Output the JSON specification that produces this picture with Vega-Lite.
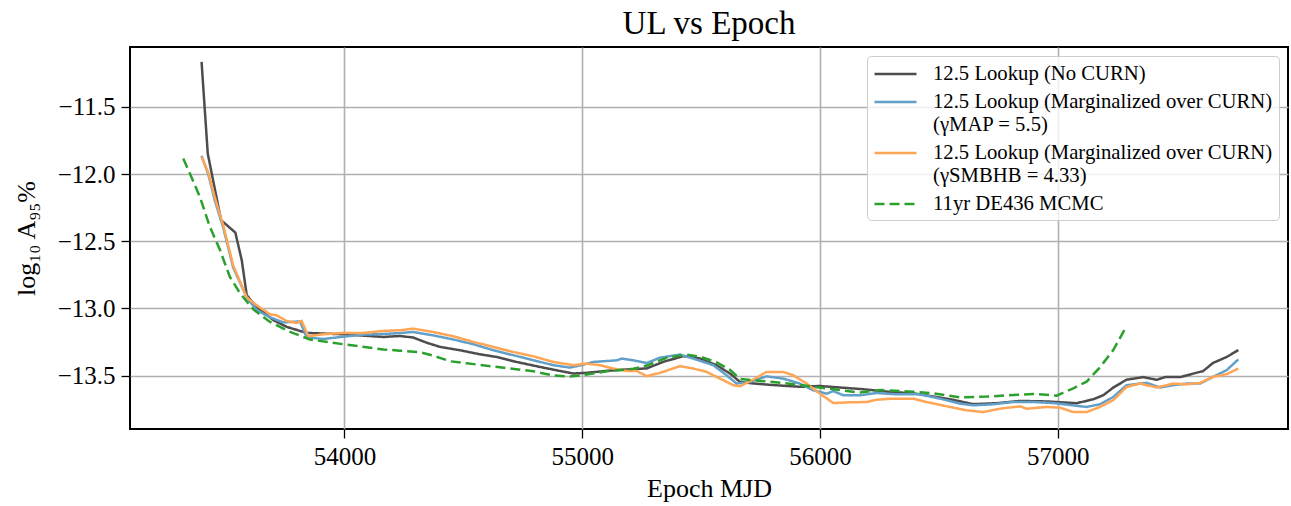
{
  "$schema": "https://vega.github.io/schema/vega-lite/v6.json",
  "width": 1158,
  "height": 382,
  "autosize": "none",
  "padding": {"left": 130, "top": 47, "right": 3, "bottom": 77},
  "background": "white",
  "title": {"text": "UL vs Epoch", "font": "Liberation Serif", "fontSize": 33, "fontWeight": "normal", "color": "black", "offset": 6},
  "data": {"values": [
    {"s":"nocurn","x":53399,"y":-11.165},{"s":"nocurn","x":53425,"y":-11.847},{"s":"nocurn","x":53481,"y":-12.343},{"s":"nocurn","x":53541,"y":-12.435},{"s":"nocurn","x":53568,"y":-12.641},{"s":"nocurn","x":53589,"y":-12.902},{"s":"nocurn","x":53631,"y":-12.988},{"s":"nocurn","x":53701,"y":-13.087},{"s":"nocurn","x":53757,"y":-13.137},{"s":"nocurn","x":53841,"y":-13.182},{"s":"nocurn","x":53995,"y":-13.192},{"s":"nocurn","x":54163,"y":-13.212},{"s":"nocurn","x":54233,"y":-13.205},{"s":"nocurn","x":54289,"y":-13.216},{"s":"nocurn","x":54346,"y":-13.255},{"s":"nocurn","x":54402,"y":-13.286},{"s":"nocurn","x":54486,"y":-13.311},{"s":"nocurn","x":54570,"y":-13.341},{"s":"nocurn","x":54640,"y":-13.361},{"s":"nocurn","x":54724,"y":-13.398},{"s":"nocurn","x":54822,"y":-13.435},{"s":"nocurn","x":54906,"y":-13.465},{"s":"nocurn","x":54962,"y":-13.484},{"s":"nocurn","x":55018,"y":-13.479},{"s":"nocurn","x":55103,"y":-13.464},{"s":"nocurn","x":55187,"y":-13.454},{"s":"nocurn","x":55271,"y":-13.446},{"s":"nocurn","x":55341,"y":-13.397},{"s":"nocurn","x":55425,"y":-13.355},{"s":"nocurn","x":55495,"y":-13.372},{"s":"nocurn","x":55565,"y":-13.422},{"s":"nocurn","x":55621,"y":-13.484},{"s":"nocurn","x":55663,"y":-13.546},{"s":"nocurn","x":55719,"y":-13.558},{"s":"nocurn","x":55803,"y":-13.570},{"s":"nocurn","x":55915,"y":-13.583},{"s":"nocurn","x":55999,"y":-13.577},{"s":"nocurn","x":56098,"y":-13.590},{"s":"nocurn","x":56182,"y":-13.601},{"s":"nocurn","x":56294,"y":-13.621},{"s":"nocurn","x":56392,"y":-13.631},{"s":"nocurn","x":56476,"y":-13.655},{"s":"nocurn","x":56560,"y":-13.680},{"s":"nocurn","x":56644,"y":-13.712},{"s":"nocurn","x":56743,"y":-13.705},{"s":"nocurn","x":56841,"y":-13.688},{"s":"nocurn","x":56953,"y":-13.692},{"s":"nocurn","x":57079,"y":-13.705},{"s":"nocurn","x":57149,"y":-13.676},{"s":"nocurn","x":57191,"y":-13.646},{"s":"nocurn","x":57233,"y":-13.589},{"s":"nocurn","x":57289,"y":-13.530},{"s":"nocurn","x":57359,"y":-13.511},{"s":"nocurn","x":57416,"y":-13.531},{"s":"nocurn","x":57450,"y":-13.511},{"s":"nocurn","x":57520,"y":-13.509},{"s":"nocurn","x":57569,"y":-13.485},{"s":"nocurn","x":57611,"y":-13.466},{"s":"nocurn","x":57653,"y":-13.405},{"s":"nocurn","x":57710,"y":-13.361},{"s":"nocurn","x":57759,"y":-13.310},
    {"s":"map","x":53399,"y":-11.864},{"s":"map","x":53427,"y":-12.000},{"s":"map","x":53455,"y":-12.198},{"s":"map","x":53490,"y":-12.397},{"s":"map","x":53532,"y":-12.695},{"s":"map","x":53589,"y":-12.918},{"s":"map","x":53631,"y":-13.012},{"s":"map","x":53687,"y":-13.066},{"s":"map","x":53743,"y":-13.104},{"s":"map","x":53813,"y":-13.096},{"s":"map","x":53841,"y":-13.215},{"s":"map","x":53911,"y":-13.227},{"s":"map","x":53995,"y":-13.210},{"s":"map","x":54079,"y":-13.195},{"s":"map","x":54163,"y":-13.190},{"s":"map","x":54233,"y":-13.183},{"s":"map","x":54289,"y":-13.175},{"s":"map","x":54373,"y":-13.200},{"s":"map","x":54458,"y":-13.231},{"s":"map","x":54542,"y":-13.266},{"s":"map","x":54626,"y":-13.311},{"s":"map","x":54710,"y":-13.348},{"s":"map","x":54794,"y":-13.385},{"s":"map","x":54878,"y":-13.422},{"s":"map","x":54948,"y":-13.440},{"s":"map","x":54997,"y":-13.422},{"s":"map","x":55046,"y":-13.398},{"s":"map","x":55145,"y":-13.386},{"s":"map","x":55166,"y":-13.373},{"s":"map","x":55215,"y":-13.386},{"s":"map","x":55271,"y":-13.406},{"s":"map","x":55327,"y":-13.366},{"s":"map","x":55411,"y":-13.343},{"s":"map","x":55467,"y":-13.373},{"s":"map","x":55551,"y":-13.422},{"s":"map","x":55607,"y":-13.497},{"s":"map","x":55649,"y":-13.559},{"s":"map","x":55705,"y":-13.547},{"s":"map","x":55775,"y":-13.505},{"s":"map","x":55845,"y":-13.522},{"s":"map","x":55915,"y":-13.559},{"s":"map","x":55971,"y":-13.609},{"s":"map","x":56028,"y":-13.634},{"s":"map","x":56056,"y":-13.615},{"s":"map","x":56098,"y":-13.646},{"s":"map","x":56168,"y":-13.646},{"s":"map","x":56238,"y":-13.629},{"s":"map","x":56322,"y":-13.639},{"s":"map","x":56420,"y":-13.639},{"s":"map","x":56504,"y":-13.671},{"s":"map","x":56588,"y":-13.708},{"s":"map","x":56644,"y":-13.721},{"s":"map","x":56728,"y":-13.713},{"s":"map","x":56812,"y":-13.696},{"s":"map","x":56897,"y":-13.696},{"s":"map","x":56981,"y":-13.704},{"s":"map","x":57065,"y":-13.721},{"s":"map","x":57121,"y":-13.733},{"s":"map","x":57177,"y":-13.713},{"s":"map","x":57233,"y":-13.659},{"s":"map","x":57289,"y":-13.571},{"s":"map","x":57345,"y":-13.559},{"s":"map","x":57374,"y":-13.554},{"s":"map","x":57430,"y":-13.588},{"s":"map","x":57485,"y":-13.571},{"s":"map","x":57542,"y":-13.559},{"s":"map","x":57598,"y":-13.559},{"s":"map","x":57653,"y":-13.509},{"s":"map","x":57710,"y":-13.459},{"s":"map","x":57759,"y":-13.379},
    {"s":"smbhb","x":53399,"y":-11.872},{"s":"smbhb","x":53427,"y":-11.989},{"s":"smbhb","x":53455,"y":-12.175},{"s":"smbhb","x":53490,"y":-12.380},{"s":"smbhb","x":53532,"y":-12.680},{"s":"smbhb","x":53589,"y":-12.918},{"s":"smbhb","x":53631,"y":-12.977},{"s":"smbhb","x":53687,"y":-13.043},{"s":"smbhb","x":53715,"y":-13.051},{"s":"smbhb","x":53757,"y":-13.093},{"s":"smbhb","x":53799,"y":-13.108},{"s":"smbhb","x":53820,"y":-13.093},{"s":"smbhb","x":53848,"y":-13.207},{"s":"smbhb","x":53911,"y":-13.192},{"s":"smbhb","x":53995,"y":-13.182},{"s":"smbhb","x":54079,"y":-13.182},{"s":"smbhb","x":54163,"y":-13.167},{"s":"smbhb","x":54233,"y":-13.162},{"s":"smbhb","x":54289,"y":-13.150},{"s":"smbhb","x":54373,"y":-13.175},{"s":"smbhb","x":54458,"y":-13.207},{"s":"smbhb","x":54542,"y":-13.249},{"s":"smbhb","x":54626,"y":-13.286},{"s":"smbhb","x":54710,"y":-13.324},{"s":"smbhb","x":54794,"y":-13.356},{"s":"smbhb","x":54878,"y":-13.398},{"s":"smbhb","x":54962,"y":-13.422},{"s":"smbhb","x":55018,"y":-13.410},{"s":"smbhb","x":55074,"y":-13.422},{"s":"smbhb","x":55130,"y":-13.447},{"s":"smbhb","x":55187,"y":-13.465},{"s":"smbhb","x":55229,"y":-13.465},{"s":"smbhb","x":55271,"y":-13.504},{"s":"smbhb","x":55327,"y":-13.479},{"s":"smbhb","x":55411,"y":-13.429},{"s":"smbhb","x":55467,"y":-13.447},{"s":"smbhb","x":55523,"y":-13.472},{"s":"smbhb","x":55579,"y":-13.522},{"s":"smbhb","x":55635,"y":-13.571},{"s":"smbhb","x":55663,"y":-13.579},{"s":"smbhb","x":55719,"y":-13.529},{"s":"smbhb","x":55775,"y":-13.472},{"s":"smbhb","x":55845,"y":-13.472},{"s":"smbhb","x":55887,"y":-13.497},{"s":"smbhb","x":55944,"y":-13.559},{"s":"smbhb","x":55999,"y":-13.634},{"s":"smbhb","x":56056,"y":-13.704},{"s":"smbhb","x":56112,"y":-13.699},{"s":"smbhb","x":56196,"y":-13.696},{"s":"smbhb","x":56238,"y":-13.679},{"s":"smbhb","x":56308,"y":-13.671},{"s":"smbhb","x":56392,"y":-13.671},{"s":"smbhb","x":56448,"y":-13.696},{"s":"smbhb","x":56532,"y":-13.728},{"s":"smbhb","x":56616,"y":-13.758},{"s":"smbhb","x":56686,"y":-13.771},{"s":"smbhb","x":56756,"y":-13.746},{"s":"smbhb","x":56841,"y":-13.728},{"s":"smbhb","x":56869,"y":-13.746},{"s":"smbhb","x":56953,"y":-13.733},{"s":"smbhb","x":57009,"y":-13.738},{"s":"smbhb","x":57065,"y":-13.771},{"s":"smbhb","x":57121,"y":-13.771},{"s":"smbhb","x":57177,"y":-13.733},{"s":"smbhb","x":57233,"y":-13.683},{"s":"smbhb","x":57289,"y":-13.584},{"s":"smbhb","x":57345,"y":-13.559},{"s":"smbhb","x":57416,"y":-13.588},{"s":"smbhb","x":57485,"y":-13.559},{"s":"smbhb","x":57542,"y":-13.564},{"s":"smbhb","x":57598,"y":-13.554},{"s":"smbhb","x":57653,"y":-13.509},{"s":"smbhb","x":57710,"y":-13.489},{"s":"smbhb","x":57759,"y":-13.447},
    {"s":"mcmc","x":53322,"y":-11.884},{"s":"mcmc","x":53350,"y":-11.996},{"s":"mcmc","x":53392,"y":-12.170},{"s":"mcmc","x":53434,"y":-12.393},{"s":"mcmc","x":53477,"y":-12.567},{"s":"mcmc","x":53518,"y":-12.765},{"s":"mcmc","x":53561,"y":-12.888},{"s":"mcmc","x":53617,"y":-13.007},{"s":"mcmc","x":53687,"y":-13.100},{"s":"mcmc","x":53771,"y":-13.174},{"s":"mcmc","x":53855,"y":-13.231},{"s":"mcmc","x":53995,"y":-13.266},{"s":"mcmc","x":54163,"y":-13.305},{"s":"mcmc","x":54233,"y":-13.314},{"s":"mcmc","x":54318,"y":-13.326},{"s":"mcmc","x":54373,"y":-13.351},{"s":"mcmc","x":54444,"y":-13.393},{"s":"mcmc","x":54514,"y":-13.408},{"s":"mcmc","x":54654,"y":-13.438},{"s":"mcmc","x":54794,"y":-13.467},{"s":"mcmc","x":54878,"y":-13.499},{"s":"mcmc","x":54948,"y":-13.507},{"s":"mcmc","x":55018,"y":-13.492},{"s":"mcmc","x":55103,"y":-13.467},{"s":"mcmc","x":55215,"y":-13.449},{"s":"mcmc","x":55271,"y":-13.425},{"s":"mcmc","x":55355,"y":-13.367},{"s":"mcmc","x":55439,"y":-13.343},{"s":"mcmc","x":55495,"y":-13.358},{"s":"mcmc","x":55565,"y":-13.401},{"s":"mcmc","x":55621,"y":-13.457},{"s":"mcmc","x":55663,"y":-13.524},{"s":"mcmc","x":55719,"y":-13.534},{"s":"mcmc","x":55803,"y":-13.547},{"s":"mcmc","x":55915,"y":-13.569},{"s":"mcmc","x":56056,"y":-13.601},{"s":"mcmc","x":56168,"y":-13.626},{"s":"mcmc","x":56252,"y":-13.606},{"s":"mcmc","x":56392,"y":-13.619},{"s":"mcmc","x":56476,"y":-13.631},{"s":"mcmc","x":56588,"y":-13.661},{"s":"mcmc","x":56701,"y":-13.656},{"s":"mcmc","x":56812,"y":-13.644},{"s":"mcmc","x":56897,"y":-13.636},{"s":"mcmc","x":56995,"y":-13.649},{"s":"mcmc","x":57065,"y":-13.594},{"s":"mcmc","x":57121,"y":-13.545},{"s":"mcmc","x":57177,"y":-13.438},{"s":"mcmc","x":57233,"y":-13.310},{"s":"mcmc","x":57289,"y":-13.131}
  ]},
  "mark": {"type": "line", "strokeWidth": 2.5, "clip": true, "strokeCap": "butt"},
  "encoding": {
    "x": {"field": "x", "type": "quantitative",
      "scale": {"domain": [53098, 57968], "nice": false, "zero": false},
      "axis": {"values": [54000, 55000, 56000, 57000], "format": "d", "title": "Epoch MJD", "titlePadding": 6}},
    "y": {"field": "y", "type": "quantitative",
      "scale": {"domain": [-13.897, -11.054], "nice": false, "zero": false},
      "axis": {"values": [-13.5, -13, -12.5, -12, -11.5], "format": ".1f", "title": "log₁₀ A₉₅%", "titlePadding": 18}},
    "color": {"field": "s", "type": "nominal",
      "scale": {"domain": ["nocurn", "map", "smbhb", "mcmc"], "range": ["#4d4d4d", "#62a0ca", "#ffa556", "#2ca02c"]},
      "legend": {"title": null,
        "labelExpr": "datum.value == 'nocurn' ? '12.5 Lookup (No CURN)' : datum.value == 'map' ? ['12.5 Lookup (Marginalized over CURN)', '(γMAP = 5.5)'] : datum.value == 'smbhb' ? ['12.5 Lookup (Marginalized over CURN)', '(γSMBHB = 4.33)'] : '11yr DE436 MCMC'"}},
    "strokeDash": {"field": "s", "type": "nominal",
      "scale": {"domain": ["nocurn", "map", "smbhb", "mcmc"], "range": [[1, 0], [1, 0], [1, 0], [10, 5]]},
      "legend": {"title": null,
        "labelExpr": "datum.value == 'nocurn' ? '12.5 Lookup (No CURN)' : datum.value == 'map' ? ['12.5 Lookup (Marginalized over CURN)', '(γMAP = 5.5)'] : datum.value == 'smbhb' ? ['12.5 Lookup (Marginalized over CURN)', '(γSMBHB = 4.33)'] : '11yr DE436 MCMC'"}}
  },
  "config": {
    "view": {"stroke": "black", "strokeWidth": 2},
    "axis": {
      "grid": true, "gridColor": "#b0b0b0", "gridWidth": 1.6,
      "domain": false, "tickColor": "black", "tickSize": 9, "tickWidth": 1.3,
      "labelFont": "Liberation Serif", "labelFontSize": 25, "labelColor": "black", "labelPadding": 6,
      "titleFont": "Liberation Serif", "titleFontSize": 26, "titleFontWeight": "normal", "titleColor": "black"
    },
    "legend": {
      "orient": "top-right", "offset": 9, "padding": 6,
      "strokeColor": "#cccccc", "fillColor": "rgba(255,255,255,0.8)", "cornerRadius": 4,
      "symbolType": "M-1,0H3", "symbolSize": 441, "symbolStrokeWidth": 2.5,
      "labelFont": "Liberation Serif", "labelFontSize": 20.7, "labelColor": "black", "labelOffset": 36, "labelLimit": 600,
      "rowPadding": 6
    }
  }
}
